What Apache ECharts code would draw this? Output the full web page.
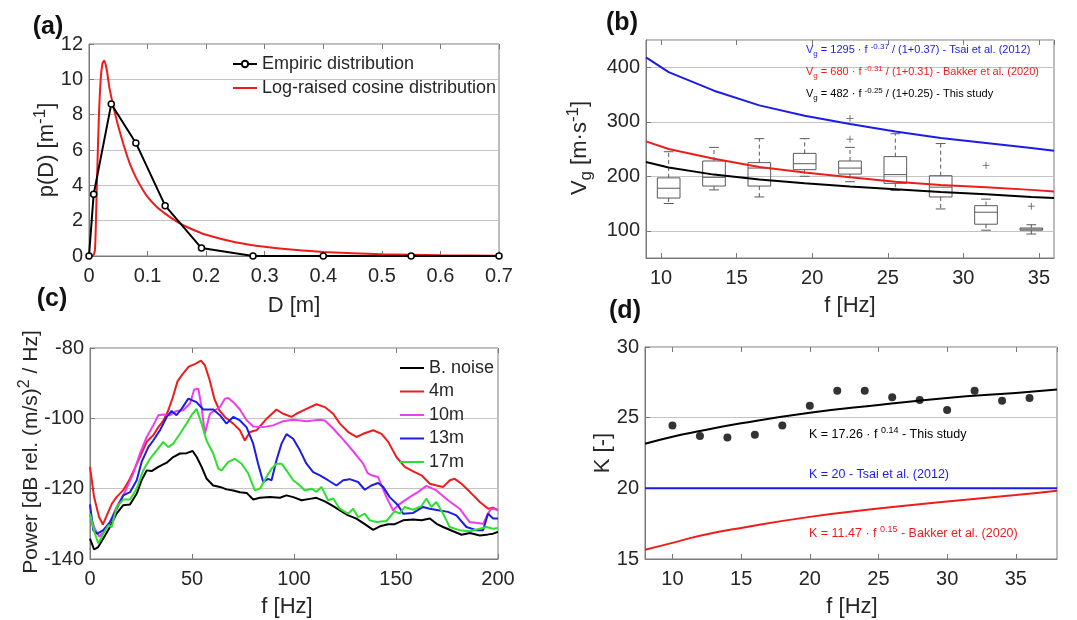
<!DOCTYPE html>
<html>
<head>
<meta charset="utf-8">
<script src="https://cdn.jsdelivr.net/npm/echarts@6/dist/echarts.min.js"></script>
<style>html,body{margin:0;background:#fff}#chart{width:1077px;height:620px}</style>
</head>
<body>
<div id="chart"></div>
<script>
// (a) diameter distribution
const empD = [0, 0.008, 0.038, 0.08, 0.13, 0.192, 0.28, 0.40, 0.55, 0.70];
const empP = [0, 3.5, 8.6, 6.4, 2.85, 0.45, 0, 0, 0, 0];
const cosD = [0, 0.006, 0.01, 0.012, 0.014, 0.017, 0.02, 0.023, 0.026, 0.03, 0.035, 0.04, 0.045, 0.05, 0.06, 0.07, 0.08, 0.09, 0.1, 0.115, 0.13, 0.15, 0.17, 0.2, 0.25, 0.3, 0.35, 0.4, 0.5, 0.6, 0.7];
const cosP = [0, 0, 0.3, 2.2, 4.7, 8.0, 10.0, 10.9, 11.05, 10.6, 9.5, 8.7, 8.0, 7.35, 6.2, 5.2, 4.45, 3.85, 3.35, 2.8, 2.4, 1.95, 1.6, 1.2, 0.78, 0.52, 0.35, 0.23, 0.1, 0.04, 0.015];

// (b) group velocity
const boxF = [10.5, 13.5, 16.5, 19.5, 22.5, 25.5, 28.5, 31.5, 34.5];
const boxLow = [150, 175, 162, 200, 190, 174, 140, 101, 94];
const boxQ1 = [160, 182, 182, 212, 204, 187, 162, 112, 101];
const boxMed = [178, 198, 215, 223, 215, 203, 180, 134, 103];
const boxQ3 = [197, 228, 225, 242, 228, 236, 201, 146, 105];
const boxHigh = [245, 253, 269, 269, 253, 278, 260, 158, 111];
const outF = [22.5, 22.5, 31.5, 34.5];
const outV = [306, 268, 220, 145];
const vgF = [9, 10.5, 13.5, 16.5, 19.5, 22.5, 25.5, 28.5, 31.5, 34.5, 36];
const vgTsai = [418, 391, 357, 330, 311, 296, 282, 270, 261, 252, 247];
const vgBakker = [264, 250, 232, 217, 207, 198, 190, 184, 180, 175, 172];
const vgStudy = [226, 216, 203, 194, 187, 181, 176, 171, 167, 162, 160];

// (c) spectra [f, dB]
const noisePts = [[0,-134.2],[2,-137.3],[4,-136.6],[6.5,-134.2],[9.8,-130.9],[13,-127.1],[16.3,-124.7],[19.6,-124.5],[22.9,-121.4],[25.3,-117.6],[27.8,-114.8],[30.2,-115],[33.5,-113.8],[37.6,-112.6],[40.8,-111],[44.1,-110],[47.4,-109.9],[50.3,-109.3],[52.3,-111],[54.7,-113.8],[57.2,-117.2],[60.4,-119.1],[63.7,-119.5],[67,-120.2],[70.2,-120.5],[73.5,-121],[76.8,-121.2],[80,-123.1],[83.3,-122.6],[88.2,-122.4],[93.1,-122.6],[96.3,-121.9],[99.6,-122.4],[103.7,-123.3],[107.8,-122.9],[111,-122.6],[115.1,-123.6],[118.4,-124.7],[122.5,-126.2],[126.6,-127.6],[130.6,-128.5],[134.7,-130.1],[138.8,-131.7],[142.1,-130.7],[146.2,-130.1],[149.4,-130.1],[153.5,-129],[158.4,-128.8],[162.5,-129],[166.6,-128.5],[169.9,-130],[173.1,-130.9],[178,-132.1],[182.1,-133.1],[186.2,-132.6],[191.1,-133.3],[195.2,-133],[197.6,-132.8],[200,-132.3]];
const m4Pts = [[0,-113.8],[2,-122.4],[4.4,-128],[6.3,-130.2],[8.3,-127.5],[10.7,-124.3],[13,-122.4],[16.2,-120.5],[19.3,-117.5],[22.5,-113.5],[25.6,-109.5],[28,-106.5],[31,-104.8],[33.5,-102.5],[35.8,-100.8],[38.2,-98],[40.6,-94],[42.9,-89.5],[45.3,-87.5],[48.4,-85.3],[51.6,-84.5],[54.4,-83.6],[56.3,-84.9],[58.6,-89],[61,-94.5],[63.4,-97.7],[66.1,-99.6],[70.2,-101.5],[73.5,-103.4],[75.9,-106.3],[78.4,-103.9],[81.6,-103.4],[86.6,-100.1],[91.4,-97.5],[94.7,-98.7],[98.8,-99.6],[101.2,-98.7],[106.1,-97.3],[111,-96],[115.1,-96.8],[119.2,-98.7],[122.5,-101.5],[126.6,-103.9],[130.6,-105.3],[133.9,-104.4],[138.8,-103.4],[142.9,-104.4],[146.2,-106.7],[150.2,-111],[154.3,-113.8],[159.2,-115.3],[162.5,-116.2],[166.6,-118.6],[169.9,-119.1],[173.1,-119.5],[176.4,-117.6],[178.8,-117.2],[182.1,-118.6],[186.2,-120.9],[191.1,-123.8],[195.2,-125.7],[197.6,-125.4],[200,-126.2]];
const m10Pts = [[0,-127.5],[2.4,-131.5],[4.6,-133.7],[6.5,-132.3],[9.8,-129.5],[13,-125.2],[17.1,-121],[21.2,-115.7],[24.5,-110],[27.8,-105.3],[31,-102],[33.5,-99.1],[35.9,-98.9],[39.2,-99.1],[42.4,-97.9],[45.7,-97.7],[49,-95.8],[51.1,-91.8],[53.1,-91.6],[54.7,-96.8],[56.3,-104.4],[58.8,-98.7],[61.2,-97.7],[63.7,-96.8],[66.1,-94.4],[67.8,-94.2],[70.2,-95.4],[73.5,-97.5],[76.7,-100.5],[80,-102.3],[84.9,-102.5],[89.8,-102],[94.7,-100.8],[99.6,-100.4],[106.1,-100.8],[112.7,-100.4],[115.1,-100.6],[119.2,-102.9],[124,-106],[127.3,-108.2],[130.6,-110.5],[133.9,-112.9],[136,-115.5],[138,-116.2],[141.2,-116.7],[145.3,-122.4],[148.6,-126.2],[151,-124.7],[156.7,-122.4],[160.9,-120.9],[164.9,-119.2],[169.8,-120.5],[175.5,-123.3],[181.2,-125.7],[186.1,-129.5],[192.7,-130],[195.1,-127.1],[196.7,-125.7],[200,-126]];
const m13Pts = [[0,-124.5],[1.6,-131.8],[3.6,-132.8],[6.5,-131.8],[9.8,-129.5],[13.1,-125.7],[16.3,-121.9],[19.6,-121],[22.9,-117.6],[25.3,-112.4],[28.6,-108.2],[31,-106.3],[34.3,-103.4],[37.6,-99.6],[40,-97.9],[42.4,-99.1],[44.9,-97.3],[48.2,-94.4],[52.2,-95.4],[55.5,-97.5],[60.4,-97.5],[63.7,-99.1],[66.9,-101.5],[70.2,-99.6],[73.5,-100.6],[76.7,-102.5],[80,-107.2],[82.4,-112.9],[84.9,-118.1],[87.3,-117.2],[89,-117.6],[91.4,-111.9],[93.9,-107.2],[96.3,-104.5],[99.6,-105.8],[102.9,-109.1],[106.1,-112.9],[109.4,-115.3],[112.7,-116.2],[116.7,-117.6],[120.8,-119.1],[124.1,-117.6],[127.3,-117.3],[131.4,-118.1],[134.7,-120.3],[137.9,-119.1],[141.2,-118.4],[143.7,-119.5],[146.9,-122.4],[151,-124.7],[153.5,-127.1],[158.4,-126.9],[163.3,-125.2],[166.5,-125.7],[171.4,-126.2],[175.5,-126.6],[179.6,-127.6],[184.5,-130.9],[189.4,-131.8],[192.7,-131.8],[195.1,-127.1],[197.6,-128.5],[200,-128.5]];
const m17Pts = [[0,-127.1],[2.4,-132.8],[4.1,-135.6],[6.5,-132.8],[9,-130.4],[10.6,-130.9],[13.1,-125.2],[16.3,-123.1],[19.6,-123.1],[22.9,-120],[26.1,-114.8],[29.4,-111.5],[32.7,-109.1],[35.9,-106.7],[38.4,-108.2],[40.8,-107.2],[44.1,-104.4],[47.3,-101.5],[49.8,-99.1],[52.2,-97.3],[54.7,-101.5],[57.1,-106.3],[60.4,-110],[62.9,-114.3],[64.5,-114.8],[67.8,-112.4],[71,-111.5],[74.3,-112.9],[77.6,-115.7],[80.8,-120.5],[83.3,-120],[86.5,-116.7],[89,-114.3],[91.4,-112.9],[93.9,-112.9],[96.3,-114.8],[99.6,-117.6],[102.9,-119.1],[105.3,-120.5],[108.6,-120],[111,-120.9],[113.5,-119.5],[116.7,-123.3],[119.2,-122.8],[122.4,-125.7],[126.5,-127.1],[129,-125.7],[131.4,-128.1],[134.7,-127.1],[137.1,-129],[140.4,-129.5],[145.3,-129.2],[149.4,-126.4],[151.8,-127.1],[154.3,-125.2],[158.4,-126],[162.4,-125],[164.9,-122.8],[167.3,-125.2],[169.8,-123.8],[173.1,-127.1],[176.3,-130.9],[181.2,-131.8],[186.1,-132.1],[191,-131.4],[194.3,-130.9],[197.6,-131.4],[200,-131.2]];

// (d) K coefficient
const kF = [10, 12, 14, 16, 18, 20, 22, 24, 26, 28, 30, 32, 34, 36];
const kObs = [24.45, 23.7, 23.6, 23.8, 24.45, 25.85, 26.9, 26.9, 26.45, 26.25, 25.55, 26.9, 26.2, 26.4];
const kCurveF = [8, 10, 12, 15, 20, 25, 30, 35, 38];
const kStudy = [23.15, 23.65, 24.05, 24.6, 25.35, 25.9, 26.4, 26.75, 27.0];
const kBakker = [15.66, 16.14, 16.65, 17.2, 17.98, 18.57, 19.07, 19.52, 19.83];
const kTsai = [20, 20, 20, 20, 20, 20, 20, 20, 20];

const FONT = '"Liberation Sans", Arial, sans-serif';
const TXT = '#262626';
const FRAME = '#7a7a7a';
const RED = '#ef1c1c', BLUE = '#1c1ce6', MAG = '#ee3cee', GRN = '#2ee02e', BLK = '#000000';
const LINE_ICON = 'path://M0,0H24V2H0Z';

const zip = (a, b) => a.map((v, i) => [v, b[i]]);

const grids = [
  {left: 89, top: 44, width: 410, height: 212},
  {left: 646, top: 40, width: 408, height: 218},
  {left: 90, top: 348, width: 408, height: 211},
  {left: 645, top: 347, width: 412, height: 212}
].map(g => ({...g, show: true, borderColor: FRAME, borderWidth: 1, backgroundColor: 'transparent'}));

function xAx(gi, min, max, interval, hideEnds) {
  const ax = {
    type: 'value', gridIndex: gi, min, max,
    axisLine: {show: true, lineStyle: {color: FRAME}},
    axisTick: {show: true, inside: true, length: 5, lineStyle: {color: FRAME}},
    axisLabel: {color: TXT, fontSize: 20, fontFamily: FONT, margin: 10,
      showMinLabel: !hideEnds, showMaxLabel: !hideEnds},
    splitLine: {show: false}
  };
  if (interval) ax.interval = interval;
  return ax;
}
function xTop(gi, min, max, interval) {
  const ax = {
    type: 'value', gridIndex: gi, min, max, position: 'top',
    axisLine: {show: false},
    axisTick: {show: true, inside: true, length: 5, lineStyle: {color: FRAME}},
    axisLabel: {show: false}, splitLine: {show: false}
  };
  if (interval) ax.interval = interval;
  return ax;
}
function yAx(gi, min, max, interval, hideEnds) {
  const ax = {
    type: 'value', gridIndex: gi, min, max,
    axisLine: {show: true, lineStyle: {color: FRAME}},
    axisTick: {show: true, inside: true, length: 5, lineStyle: {color: FRAME}},
    axisLabel: {color: TXT, fontSize: 20, fontFamily: FONT, margin: 6,
      showMinLabel: !hideEnds, showMaxLabel: !hideEnds},
    splitLine: {show: true, lineStyle: {color: '#c4c4c4', width: 1}}
  };
  if (interval) ax.interval = interval;
  return ax;
}

function rich(size, color) {
  return {
    n: {fontSize: size, fontFamily: FONT, fill: color, lineHeight: Math.round(size * 1.35)},
    sup: {fontSize: Math.round(size * 0.75), fontFamily: FONT, fill: color, verticalAlign: 'top'},
    sub: {fontSize: Math.round(size * 0.75), fontFamily: FONT, fill: color, verticalAlign: 'bottom'}
  };
}
function label(x, y, text, size, color, opts) {
  opts = opts || {};
  return {
    type: 'text', x, y, rotation: opts.rot || 0, z: 100,
    style: {text, rich: rich(size, color), align: opts.align || 'center', verticalAlign: 'middle',
      fontSize: size, fontFamily: FONT, fill: color}
  };
}
function panel(x, y, t) {
  return {type: 'text', x, y, z: 100,
    style: {text: t, fontSize: 25, fontWeight: 'bold', fontFamily: FONT, fill: '#111', align: 'center', verticalAlign: 'middle'}};
}

const boxData = boxF.map((f, i) => [f, boxLow[i], boxQ1[i], boxMed[i], boxQ3[i], boxHigh[i]]);

function renderBox(params, api) {
  const f = api.value(0);
  const lo = api.coord([f, api.value(1)]);
  const q1 = api.coord([f, api.value(2)]);
  const md = api.coord([f, api.value(3)]);
  const q3 = api.coord([f, api.value(4)]);
  const hi = api.coord([f, api.value(5)]);
  const w = api.size([1.5, 0])[0];
  const cw = api.size([0.65, 0])[0];
  const cx = lo[0];
  const st = {stroke: '#5a5a5a', lineWidth: 1, fill: null};
  const dash = {stroke: '#5a5a5a', lineWidth: 1, lineDash: [4, 3], fill: null};
  return {type: 'group', children: [
    {type: 'line', shape: {x1: cx, y1: q3[1], x2: cx, y2: hi[1]}, style: dash},
    {type: 'line', shape: {x1: cx, y1: q1[1], x2: cx, y2: lo[1]}, style: dash},
    {type: 'line', shape: {x1: cx - cw / 2, y1: hi[1], x2: cx + cw / 2, y2: hi[1]}, style: st},
    {type: 'line', shape: {x1: cx - cw / 2, y1: lo[1], x2: cx + cw / 2, y2: lo[1]}, style: st},
    {type: 'rect', shape: {x: cx - w / 2, y: q3[1], width: w, height: q1[1] - q3[1]}, style: {stroke: '#5a5a5a', lineWidth: 1, fill: 'none'}},
    {type: 'line', shape: {x1: cx - w / 2, y1: md[1], x2: cx + w / 2, y2: md[1]}, style: st}
  ]};
}

const line = (name, xi, data, color, extra) => Object.assign({
  name, type: 'line', xAxisIndex: xi, yAxisIndex: xi, data,
  symbol: 'none', color, lineStyle: {color, width: 2}, animation: false
}, extra || {});

const option = {
  animation: false,
  backgroundColor: '#fff',
  grid: grids,
  xAxis: [
    xAx(0, 0, 0.7, 0.1), xAx(1, 9, 36, null, true), xAx(2, 0, 200, 50), xAx(3, 8, 38, null, true),
    xTop(0, 0, 0.7, 0.1), xTop(1, 9, 36), xTop(2, 0, 200, 50), xTop(3, 8, 38)
  ],
  yAxis: [
    yAx(0, 0, 12, 2), yAx(1, 50, 450, null, true), yAx(2, -140, -80, 20), yAx(3, 15, 30, 5)
  ],
  legend: [
    {data: [{name: 'Empiric distribution'}, {name: 'Log-raised cosine distribution', icon: LINE_ICON}],
     orient: 'vertical', left: 232, top: 55, padding: 0, itemGap: 6, itemWidth: 24, itemHeight: 8,
     textStyle: {fontSize: 18, fontFamily: FONT, color: TXT, lineHeight: 18}},
    {data: ['B. noise', '4m', '10m', '13m', '17m'], icon: LINE_ICON, orient: 'vertical',
     left: 400, top: 359, padding: 0, itemGap: 5.5, itemWidth: 24, itemHeight: 8,
     textStyle: {fontSize: 18, fontFamily: FONT, color: TXT, lineHeight: 18}}
  ],
  series: [
    line('Log-raised cosine distribution', 0, zip(cosD, cosP), RED, {smooth: 0.25}),
    line('Empiric distribution', 0, zip(empD, empP), BLK, {symbol: 'circle', symbolSize: 6, showSymbol: true,
      itemStyle: {color: '#ffffff', borderColor: BLK, borderWidth: 1.5}}),
    {type: 'custom', xAxisIndex: 1, yAxisIndex: 1, data: boxData, renderItem: renderBox,
     encode: {x: 0, y: [1, 2, 3, 4, 5]}, z: 1},
    {type: 'scatter', xAxisIndex: 1, yAxisIndex: 1, data: zip(outF, outV),
     symbol: 'path://M5,0L5,10M0,5L10,5', symbolSize: 7,
     itemStyle: {color: 'none', borderColor: '#5a5a5a', borderWidth: 1}},
    line('tsai-b', 1, zip(vgF, vgTsai), BLUE),
    line('bakker-b', 1, zip(vgF, vgBakker), RED),
    line('study-b', 1, zip(vgF, vgStudy), BLK),
    line('B. noise', 2, noisePts, BLK),
    line('4m', 2, m4Pts, RED),
    line('10m', 2, m10Pts, MAG),
    line('13m', 2, m13Pts, BLUE),
    line('17m', 2, m17Pts, GRN),
    line('study-d', 3, zip(kCurveF, kStudy), BLK, {smooth: true}),
    line('tsai-d', 3, zip(kCurveF, kTsai), BLUE),
    line('bakker-d', 3, zip(kCurveF, kBakker), RED, {smooth: true}),
    {type: 'scatter', xAxisIndex: 3, yAxisIndex: 3, data: zip(kF, kObs), symbol: 'circle',
     symbolSize: 8, itemStyle: {color: BLK}}
  ],
  graphic: [
    panel(48, 27, '(a)'), panel(622, 23, '(b)'), panel(52, 299, '(c)'), panel(625, 311, '(d)'),
    label(47, 150, '{n|p(D) [m}{sup|-1}{n|]}', 22, TXT, {rot: Math.PI / 2}),
    label(294, 306, '{n|D [m]}', 22, TXT),
    label(580, 148, '{n|V}{sub|g}{n| [m·s}{sup|-1}{n|]}', 22, TXT, {rot: Math.PI / 2}),
    label(850, 306, '{n|f [Hz]}', 22, TXT),
    label(31, 452, '{n|Power [dB rel. (m/s)}{sup|2}{n| / Hz]}', 21, TXT, {rot: Math.PI / 2}),
    label(287, 607, '{n|f [Hz]}', 22, TXT),
    label(603, 453, '{n|K [-]}', 22, TXT, {rot: Math.PI / 2}),
    label(852, 607, '{n|f [Hz]}', 22, TXT),
    label(806, 50, '{n|V}{sub|g}{n| = 1295 · f }{sup|-0.37}{n| / (1+0.37) - Tsai et al. (2012)}', 11, BLUE, {align: 'left'}),
    label(806, 72, '{n|V}{sub|g}{n| = 680 · f }{sup|-0.31}{n| / (1+0.31) - Bakker et al. (2020)}', 11, RED, {align: 'left'}),
    label(806, 94, '{n|V}{sub|g}{n| = 482 · f }{sup|-0.25}{n| / (1+0.25) - This study}', 11, BLK, {align: 'left'}),
    label(809, 435, '{n|K = 17.26 · f }{sup|0.14}{n| - This study}', 12.5, BLK, {align: 'left'}),
    label(809, 475, '{n|K = 20 - Tsai et al. (2012)}', 12.5, BLUE, {align: 'left'}),
    label(809, 534, '{n|K = 11.47 · f }{sup|0.15}{n| - Bakker et al. (2020)}', 12.5, RED, {align: 'left'})
  ]
};

const chart = echarts.init(document.getElementById('chart'), null, {renderer: 'canvas'});
chart.setOption(option);
</script>
</body>
</html>
